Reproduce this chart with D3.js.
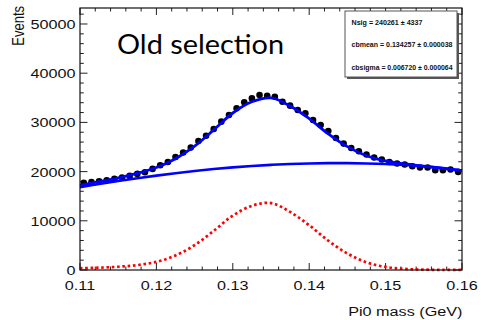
<!DOCTYPE html>
<html><head><meta charset="utf-8">
<script src="https://cdn.jsdelivr.net/npm/d3@7"></script>
<style>html,body{margin:0;padding:0;background:#fff;} svg{display:block;}</style>
</head><body>
<script>
// Data points (events per 0.001 GeV bin, 0.110 - 0.160)
const counts = [17700,17850,18050,18250,18520,18800,19130,19530,19870,20550,
  21300,21960,22980,23870,24880,26220,27300,28660,30150,31500,
  32850,34070,34880,35550,35430,35220,34210,33400,32510,31840,
  30480,29470,28250,26830,25690,24800,24130,23460,22850,22450,
  21960,21640,21440,21090,20830,20830,20280,20280,20420,19940];
const binLow = 0.11, binWidth = 0.001;
// Fit curves
const fitMass = [0.11,0.1125,0.115,0.1175,0.12,0.1225,0.125,0.1275,0.13,0.1325,0.135,
  0.1375,0.14,0.1425,0.145,0.1475,0.15,0.1525,0.155,0.1575,0.16];
const bkgFit = [16850,17480,18080,18650,19180,19680,20130,20520,20860,21140,21370,
  21540,21660,21720,21720,21660,21540,21340,21060,20660,20200];
const sigFit = [350,470,660,1000,1650,2950,5050,7950,11050,13050,13600,
  11800,9100,5950,3350,1550,620,220,70,20,5];
const xTicks = [0.11,0.12,0.13,0.14,0.15,0.16];
const xTickLabels = ["0.11","0.12","0.13","0.14","0.15","0.16"];
const yTicks = [0,10000,20000,30000,40000,50000];
const yTickLabels = ["0","10000","20000","30000","40000","50000"];
const statLines = ["Nsig = 240261 \u00b1 4337","cbmean = 0.134257 \u00b1 0.000038","cbsigma = 0.006720 \u00b1 0.000064"];

const W = 481, H = 320;
const L = 80, R = 462, T = 8, B = 270;
const svg = d3.select("body").append("svg").attr("width", W).attr("height", H);
const x = d3.scaleLinear().domain([0.11, 0.16]).range([L, R]);
const y = d3.scaleLinear().domain([0, 53250]).range([B, T]);
const font = "'Liberation Sans', Arial, Helvetica, sans-serif";
const sx = 1.2;

// ticks
const tickG = svg.append("g").attr("stroke", "#222").attr("stroke-width", 1);
const xMinor = x.ticks(25), yMinor = y.ticks(27);
xMinor.forEach(v => {
  const major = xTicks.some(t => Math.abs(t - v) < 1e-9);
  const len = major ? 7 : 3.5;
  tickG.append("line").attr("x1", x(v)).attr("x2", x(v)).attr("y1", B).attr("y2", B - len);
  tickG.append("line").attr("x1", x(v)).attr("x2", x(v)).attr("y1", T).attr("y2", T + len);
});
yMinor.forEach(v => {
  const major = yTicks.includes(v);
  const len = major ? 7.5 : 3.8;
  tickG.append("line").attr("y1", y(v)).attr("y2", y(v)).attr("x1", L).attr("x2", L + len);
  tickG.append("line").attr("y1", y(v)).attr("y2", y(v)).attr("x1", R).attr("x2", R - len);
});

// fit curves
const line = d3.line().curve(d3.curveCatmullRom.alpha(0.5));
const sigPts = fitMass.map((m, i) => [x(m), y(sigFit[i])]);
const bkgPts = fitMass.map((m, i) => [x(m), y(bkgFit[i])]);
const totPts = fitMass.map((m, i) => [x(m), y(bkgFit[i] + sigFit[i])]);

svg.append("path").attr("d", line(sigPts)).attr("fill", "none")
  .attr("stroke", "#ff0000").attr("stroke-width", 2.7).attr("stroke-dasharray", "2.6,2.7");

// data points
svg.append("g").selectAll("circle").data(counts).join("circle")
  .attr("cx", (d, i) => x(binLow + binWidth * (i + 0.5)))
  .attr("cy", d => y(d)).attr("r", 3.3).attr("fill", "#000");

svg.append("path").attr("d", line(bkgPts)).attr("fill", "none")
  .attr("stroke", "#0000ff").attr("stroke-width", 2.6);
svg.append("path").attr("d", line(totPts)).attr("fill", "none")
  .attr("stroke", "#0000ff").attr("stroke-width", 2.8);

// frame
svg.append("rect").attr("x", L).attr("y", T).attr("width", R - L).attr("height", B - T)
  .attr("fill", "none").attr("stroke", "#111").attr("stroke-width", 1.2);

// tick labels
xTicks.forEach((v, i) => {
  svg.append("text").attr("transform", `translate(${x(v)},289.5) scale(${sx},1)`)
    .attr("text-anchor", "middle").attr("font-family", font).attr("font-size", 13.5)
    .attr("fill", "#111").text(xTickLabels[i]);
});
yTicks.forEach((v, i) => {
  svg.append("text").attr("transform", `translate(75.5,${y(v) + 5}) scale(${sx},1)`)
    .attr("text-anchor", "end").attr("font-family", font).attr("font-size", 13.5)
    .attr("fill", "#111").text(yTickLabels[i]);
});

// axis titles
svg.append("text").attr("transform", `translate(462.5,316) scale(1.2,1)`)
  .attr("text-anchor", "end").attr("font-family", font).attr("font-size", 13.5)
  .attr("fill", "#111").text("Pi0 mass (GeV)");
svg.append("text").attr("transform", `translate(23.5,6) rotate(-90) scale(1,1.25)`)
  .attr("text-anchor", "end").attr("font-family", font).attr("font-size", 13)
  .attr("fill", "#111").text("Events");

// overlay title
svg.append("text").attr("x", 117).attr("y", 54).attr("font-family", "Lato, 'Open Sans', sans-serif")
  .attr("font-size", 27).attr("fill", "#000").attr("textLength", 167)
  .attr("lengthAdjust", "spacingAndGlyphs").text("Old selection");

// stats box
const bx = 345, by = 11, bw = 112, bh = 66;
svg.append("rect").attr("x", bx + 2).attr("y", by + 2).attr("width", bw).attr("height", bh).attr("fill", "#555");
svg.append("rect").attr("x", bx).attr("y", by).attr("width", bw).attr("height", bh)
  .attr("fill", "#fff").attr("stroke", "#555").attr("stroke-width", 1);
const statY = [25, 47, 69.5];
const statLen = [71, 101, 101];
statLines.forEach((s, i) => {
  svg.append("text").attr("x", 351.5).attr("y", statY[i]).attr("font-family", font)
    .attr("font-size", 7.3).attr("font-weight", "bold").attr("fill", "#111")
    .attr("textLength", statLen[i]).attr("lengthAdjust", "spacingAndGlyphs").text(s);
});
</script>
</body></html>
